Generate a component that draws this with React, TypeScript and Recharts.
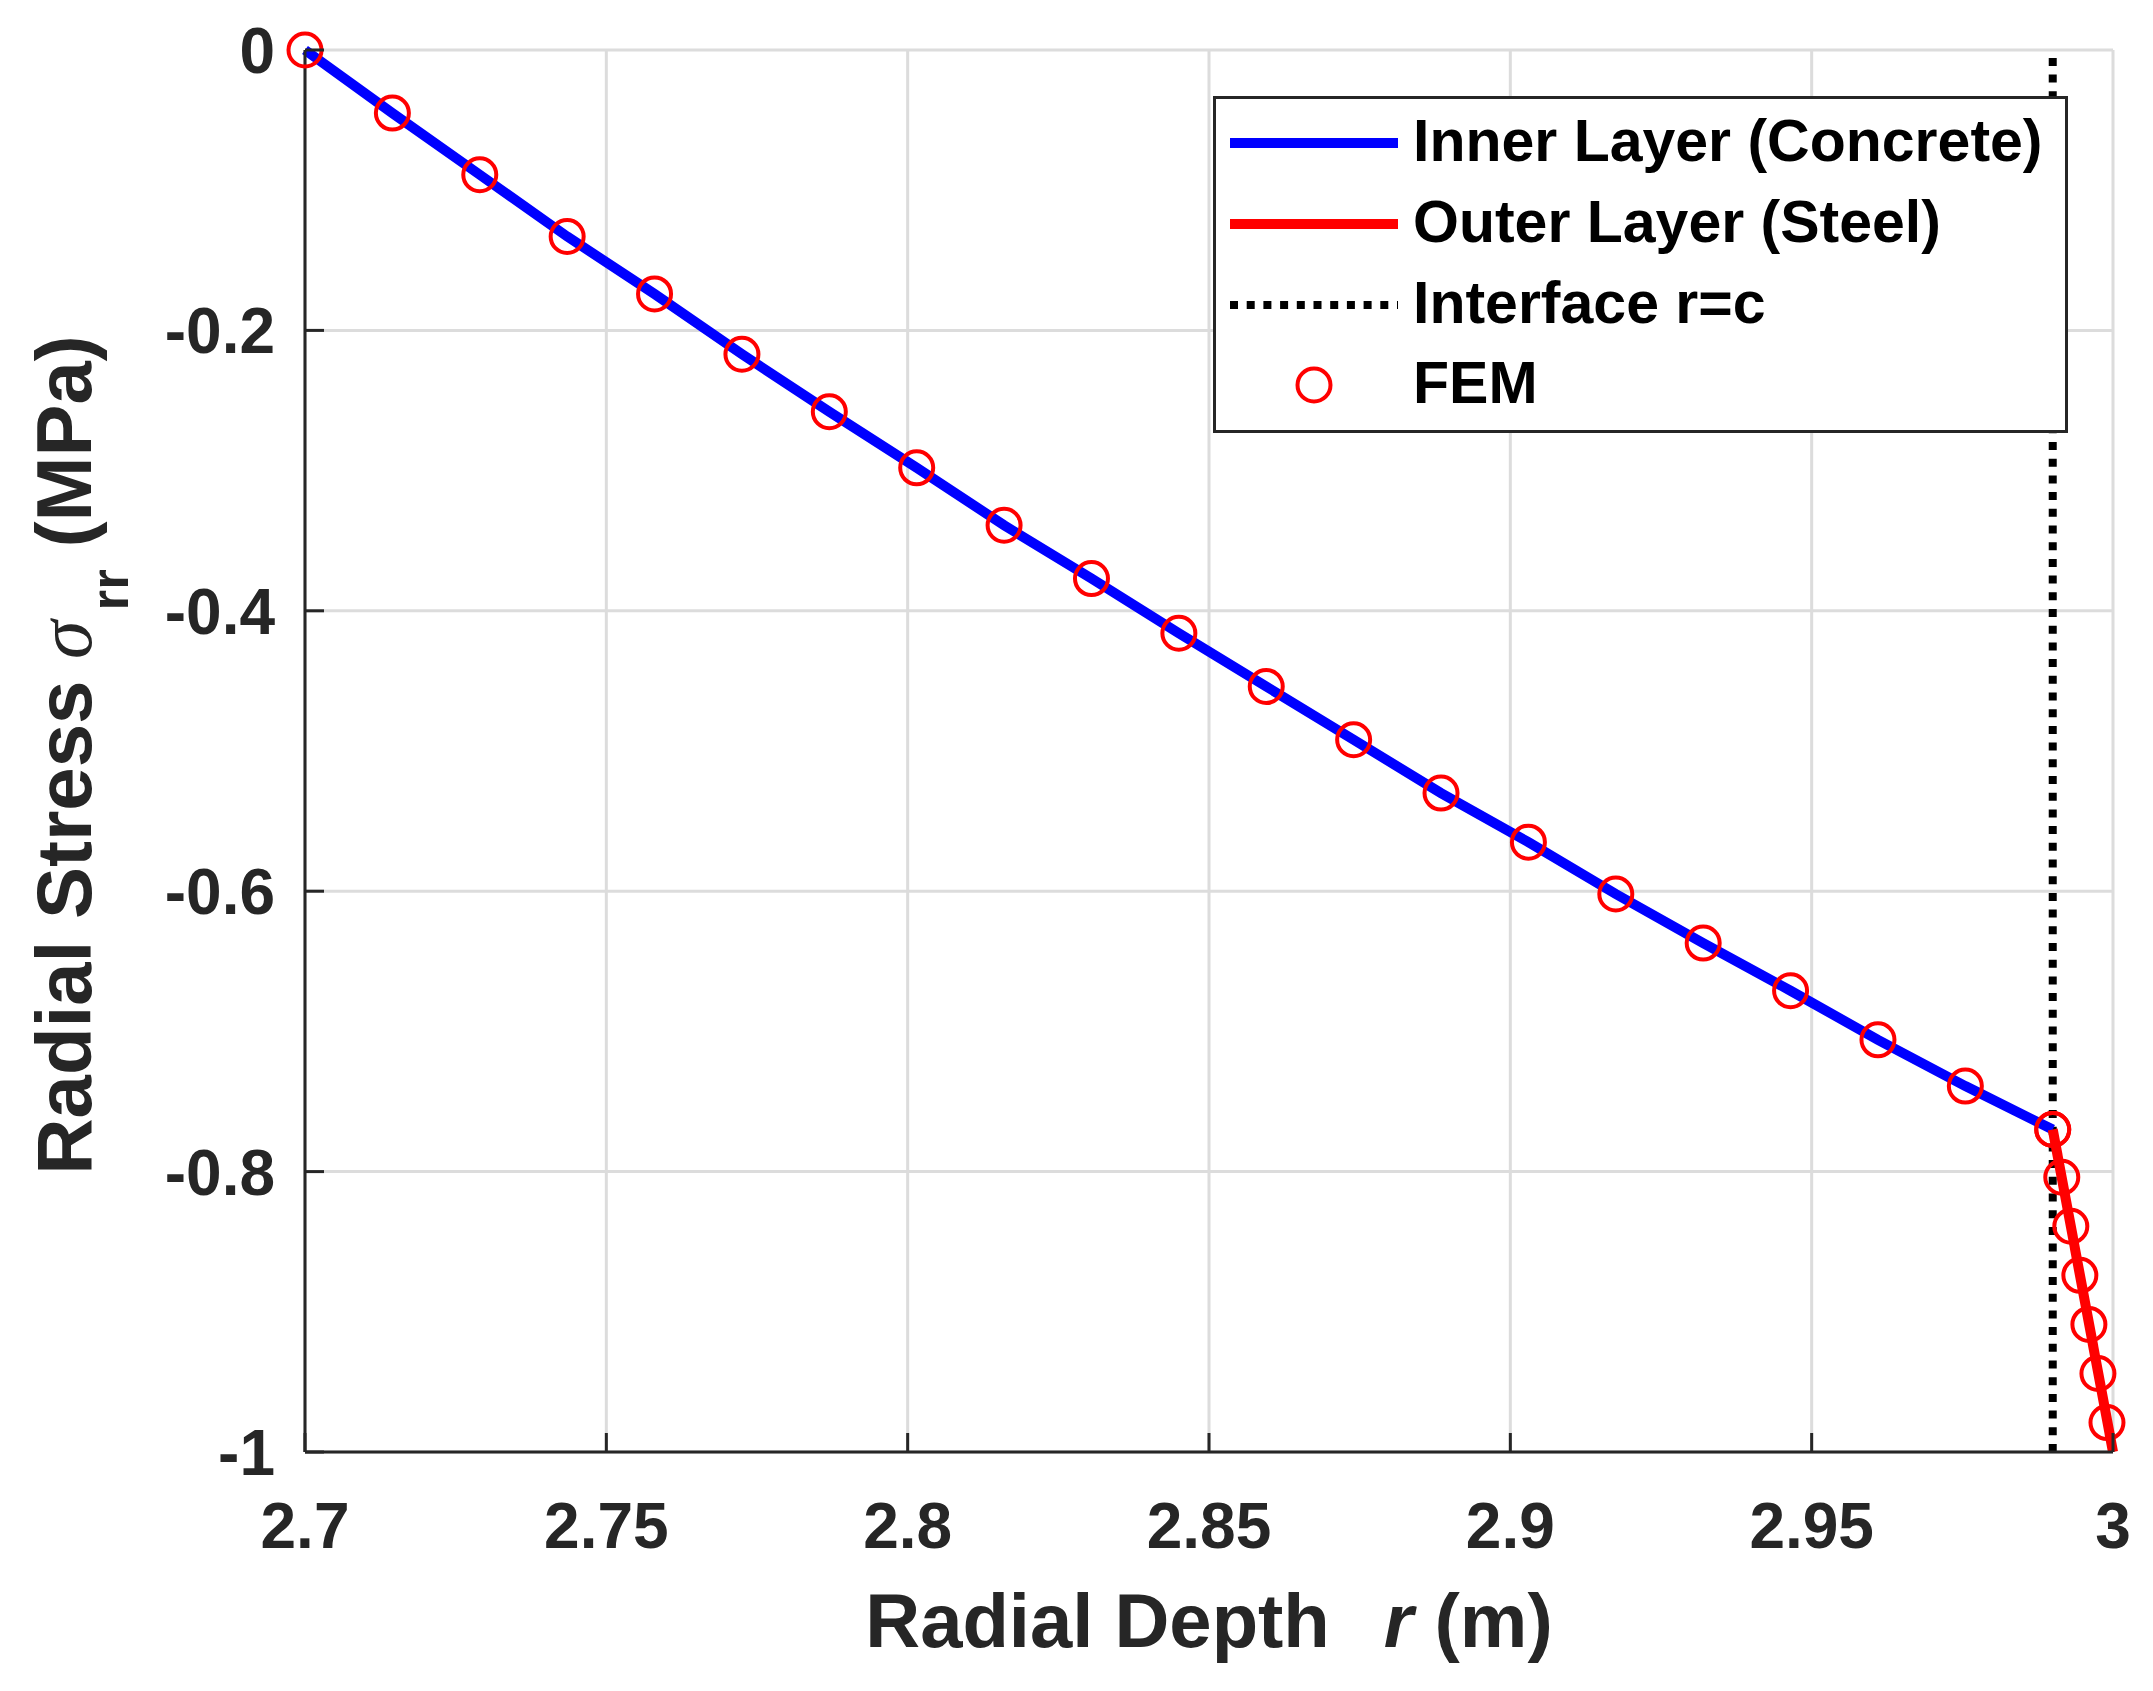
import React from 'react'
import { ComposedChart, Line, Scatter, XAxis, YAxis, CartesianGrid, ReferenceLine, Legend, Label } from 'recharts'

// radial positions (m) and radial stress (MPa)
const innerR = [2.7, 2.7145, 2.729, 2.7435, 2.758, 2.7725, 2.787, 2.8015, 2.816, 2.8305, 2.845, 2.8595, 2.874, 2.8885, 2.903, 2.9175, 2.932, 2.9465, 2.961, 2.9755, 2.99]
const innerStress = [0, -0.045, -0.089, -0.133, -0.174, -0.217, -0.258, -0.298, -0.339, -0.377, -0.416, -0.454, -0.492, -0.53, -0.565, -0.602, -0.637, -0.671, -0.706, -0.739, -0.77]

const outerLineR = [2.99, 3.0]
const outerLineStress = [-0.77, -1.0]

const femOuterR = [2.99, 2.9915, 2.993, 2.9945, 2.996, 2.9975, 2.999]
const femOuterStress = [-0.77, -0.804, -0.839, -0.874, -0.909, -0.944, -0.979]

const interfaceR = 2.99

const xTicks = [2.7, 2.75, 2.8, 2.85, 2.9, 2.95, 3]
const yTicks = [-1, -0.8, -0.6, -0.4, -0.2, 0]

const legendNames = ['Inner Layer (Concrete)', 'Outer Layer (Steel)', 'Interface r=c', 'FEM']

const innerData = innerR.map((r, i) => ({ r, s: innerStress[i] }))
const outerData = outerLineR.map((r, i) => ({ r, s: outerLineStress[i] }))
const femData = [
  ...innerR.map((r, i) => ({ r, s: innerStress[i] })),
  ...femOuterR.map((r, i) => ({ r, s: femOuterStress[i] })),
]

const FONT = '"Liberation Sans", Arial, Helvetica, sans-serif'
const AX = '#262626'
const TICK_LEN = 19

const BottomTick = (props: any) => {
  const { x, y, payload } = props
  return (
    <g>
      <line x1={x} x2={x} y1={y} y2={y - TICK_LEN} stroke={AX} strokeWidth={3} />
      <text x={x} y={y + 96} textAnchor="middle" fontSize={64} fontWeight="bold" fill={AX} fontFamily={FONT}>
        {payload.value}
      </text>
    </g>
  )
}

const LeftTick = (props: any) => {
  const { x, y, payload } = props
  return (
    <g>
      <line x1={x} x2={x + TICK_LEN} y1={y} y2={y} stroke={AX} strokeWidth={3} />
      <text x={x - 30} y={y + 23} textAnchor="end" fontSize={64} fontWeight="bold" fill={AX} fontFamily={FONT}>
        {payload.value}
      </text>
    </g>
  )
}

const TopTick = (props: any) => {
  const { x, y } = props
  return <line x1={x} x2={x} y1={y} y2={y + TICK_LEN} stroke={AX} strokeWidth={3} />
}

const RightTick = (props: any) => {
  const { x, y } = props
  return <line x1={x} x2={x - TICK_LEN} y1={y} y2={y} stroke={AX} strokeWidth={3} />
}

const XTitle = (props: any) => {
  const vb = props.viewBox
  const cx = vb.x + vb.width / 2
  return (
    <text x={cx} y={1647} textAnchor="middle" fontSize={76} fontWeight="bold" fill={AX} fontFamily={FONT}>
      <tspan>Radial Depth</tspan>
      <tspan dx={54} fontStyle="italic">r</tspan>
      <tspan> (m)</tspan>
    </text>
  )
}

const YTitle = (props: any) => {
  const vb = props.viewBox
  const cy = vb.y + vb.height / 2 + 4
  const bx = 91
  return (
    <text x={bx} y={cy} transform={`rotate(-90, ${bx}, ${cy})`} textAnchor="middle" fontSize={78} fontWeight="bold" fill={AX} fontFamily={FONT}>
      <tspan>Radial Stress </tspan>
      <tspan fontStyle="italic" fontWeight="normal" fontFamily='"Liberation Serif", "DejaVu Serif", serif'>σ</tspan>
      <tspan dx={10} dy={37} fontSize={53}>rr</tspan>
      <tspan dy={-37}> (MPa)</tspan>
    </text>
  )
}

const LegendBox = () => {
  const rowY = [47, 128, 209, 289]
  const sample = (i: number) => {
    if (i === 0) return <line x1={0} x2={168} y1={10} y2={10} stroke="#0000ff" strokeWidth={10} />
    if (i === 1) return <line x1={0} x2={168} y1={10} y2={10} stroke="#ff0000" strokeWidth={10} />
    if (i === 2) return <line x1={0} x2={168} y1={10} y2={10} stroke="#000" strokeWidth={8} strokeDasharray="8 8.7" />
    return <circle cx={84} cy={10} r={16.5} fill="none" stroke="#ff0000" strokeWidth={4} />
  }
  return (
    <div
      style={{
        position: 'relative',
        width: 855,
        height: 337,
        boxSizing: 'border-box',
        border: `3px solid ${AX}`,
        background: '#fff',
        fontFamily: FONT,
      }}
    >
      {legendNames.map((name, i) => (
        <div key={name}>
          <svg width={168} height={40} style={{ position: 'absolute', left: 14, top: rowY[i] - 3 - 10 - 10, overflow: 'visible' }}>
            <g transform="translate(0,10)">{sample(i)}</g>
          </svg>
          <div
            style={{
              position: 'absolute',
              left: 197,
              top: rowY[i] - 3 - 36,
              fontSize: 59,
              fontWeight: 'bold',
              lineHeight: '68px',
              color: '#000',
              whiteSpace: 'nowrap',
            }}
          >
            {name}
          </div>
        </div>
      ))}
    </div>
  )
}

export default function App() {
  return (
    <div style={{ position: 'absolute', left: 0, top: 0, width: 2153, height: 1691, background: '#fff' }}>
      <ComposedChart width={2153} height={1691} margin={{ top: 50, right: 40, bottom: 0, left: 0 }}>
        <CartesianGrid xAxisId="b" yAxisId="l" stroke="#dcdcdc" strokeWidth={3} />
        <XAxis
          xAxisId="b"
          dataKey="r"
          type="number"
          domain={[2.7, 3]}
          ticks={xTicks}
          height={239}
          tickSize={0}
          tickMargin={0}
          tickLine={false}
          tick={<BottomTick />}
          axisLine={{ stroke: AX, strokeWidth: 3 }}
          interval={0}
        >
          <Label content={<XTitle />} />
        </XAxis>
        <XAxis
          xAxisId="t"
          orientation="top"
          dataKey="r"
          type="number"
          domain={[2.7, 3]}
          ticks={xTicks}
          height={0}
          tickSize={0}
          tickMargin={0}
          tickLine={false}
          tick={<TopTick />}
          axisLine={{ stroke: AX, strokeWidth: 3 }}
          interval={0}
        />
        <YAxis
          yAxisId="l"
          dataKey="s"
          type="number"
          domain={[-1, 0]}
          ticks={yTicks}
          width={305}
          tickSize={0}
          tickMargin={0}
          tickLine={false}
          tick={<LeftTick />}
          axisLine={{ stroke: AX, strokeWidth: 3 }}
          interval={0}
        >
          <Label content={<YTitle />} />
        </YAxis>
        <YAxis
          yAxisId="r"
          orientation="right"
          dataKey="s"
          type="number"
          domain={[-1, 0]}
          ticks={yTicks}
          width={0}
          tickSize={0}
          tickMargin={0}
          tickLine={false}
          tick={<RightTick />}
          axisLine={{ stroke: AX, strokeWidth: 3 }}
          interval={0}
        />
        <ReferenceLine
          xAxisId="b"
          yAxisId="l"
          x={interfaceR}
          stroke="#000"
          strokeWidth={8}
          strokeDasharray="8 8.7"
        />
        <Line
          xAxisId="b"
          yAxisId="l"
          data={innerData}
          dataKey="s"
          name={legendNames[0]}
          stroke="#0000ff"
          strokeWidth={10}
          dot={false}
          type="linear"
          isAnimationActive={false}
        />
        <Line
          xAxisId="b"
          yAxisId="l"
          data={outerData}
          dataKey="s"
          name={legendNames[1]}
          stroke="#ff0000"
          strokeWidth={10}
          dot={false}
          type="linear"
          isAnimationActive={false}
        />
        <Scatter
          xAxisId="b"
          yAxisId="l"
          data={femData}
          dataKey="s"
          name={legendNames[3]}
          isAnimationActive={false}
          shape={(p: any) => <circle cx={p.cx} cy={p.cy} r={16.5} fill="none" stroke="#ff0000" strokeWidth={4} />}
        />
        <Legend
          layout="vertical"
          align="center"
          verticalAlign="middle"
          content={<LegendBox />}
          wrapperStyle={{ position: 'absolute', left: 1213, top: 96, width: 855, height: 337 }}
        />
      </ComposedChart>
    </div>
  )
}
